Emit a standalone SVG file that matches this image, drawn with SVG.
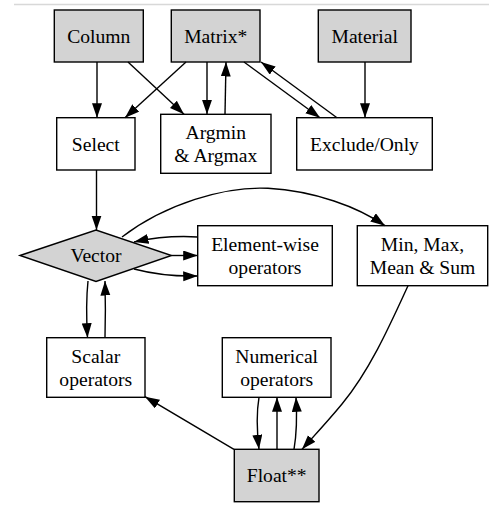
<svg xmlns="http://www.w3.org/2000/svg" width="489" height="506" viewBox="0 0 489 506">
<style>
.n{stroke:#000;stroke-width:1.4;fill:#fff}
.g{fill:#d3d3d3}
text{font-family:'Liberation Serif','Times New Roman',Times,'DejaVu Serif',serif;font-size:19.6px;text-anchor:middle;fill:#000}
.e{fill:none;stroke:#000;stroke-width:1.4;marker-end:url(#ah)}
</style>
<defs>
<marker id="ah" markerWidth="15" markerHeight="11" refX="14.5" refY="5" orient="auto" markerUnits="userSpaceOnUse">
<path d="M0,0 L14.5,5 L0,10 z" fill="#000"/>
</marker>
</defs>
<rect width="489" height="506" fill="#fff"/>
<line x1="14" y1="4.5" x2="489" y2="4.5" stroke="#d8d8d8" stroke-width="1.5"/>
<g id="column"><rect class="n g" x="54.3" y="10" width="89" height="52"/><text x="98.8" y="42.7">Column</text></g>
<g id="matrix"><rect class="n g" x="171.3" y="10" width="88.7" height="52"/><text x="215.7" y="42.7">Matrix*</text></g>
<g id="material"><rect class="n g" x="318.3" y="10" width="92.7" height="52"/><text x="364.7" y="42.7">Material</text></g>
<g id="select"><rect class="n" x="56.7" y="117.7" width="78.3" height="52.3"/><text x="95.8" y="150.5">Select</text></g>
<g id="argmin"><rect class="n" x="160.7" y="114.3" width="110.3" height="59"/><text x="215.8" y="139.3">Argmin</text><text x="215.8" y="162.3">&amp; Argmax</text></g>
<g id="exclude"><rect class="n" x="296.7" y="117.7" width="135.6" height="52.3"/><text x="364.5" y="150.5">Exclude/Only</text></g>
<g id="vector"><polygon class="n g" points="20,255.5 96,230 171.5,255.5 96,281.5"/><text x="96" y="262.2">Vector</text></g>
<g id="elementwise"><rect class="n" x="197.7" y="225.7" width="134.6" height="60"/><text x="265" y="250.9">Element-wise</text><text x="265" y="273.9">operators</text></g>
<g id="minmax"><rect class="n" x="357.3" y="225.7" width="130.4" height="60"/><text x="422.5" y="250.9">Min, Max,</text><text x="422.5" y="273.9">Mean &amp; Sum</text></g>
<g id="scalar"><rect class="n" x="46.7" y="337.7" width="98.3" height="59.6"/><text x="95.8" y="362.7">Scalar</text><text x="95.8" y="385.7">operators</text></g>
<g id="numerical"><rect class="n" x="222.3" y="337.7" width="108.7" height="59.6"/><text x="276.7" y="362.7">Numerical</text><text x="276.7" y="385.7">operators</text></g>
<g id="float"><rect class="n g" x="234.3" y="449.3" width="84.7" height="52.4"/><text x="276.7" y="482.2">Float**</text></g>
<g id="connectors">
<path class="e" d="M97,62 L97,117.7"/>
<path class="e" d="M128,62 L184,114.3"/>
<path class="e" d="M186,62 L125,117.7"/>
<path class="e" d="M207,62 L207,114.3"/>
<path class="e" d="M225,114.3 L226,62"/>
<path class="e" d="M244,62 L320,117.7"/>
<path class="e" d="M337,117.7 L261,62"/>
<path class="e" d="M365,62 L365,117.7"/>
<path class="e" d="M96.5,170 L96.5,230"/>
<path class="e" d="M122,237 C165,204 225,186 268,188.3 C315,191 358,207 385,225.7"/>
<path class="e" d="M197.7,237 C175,235.5 155,237.5 134,242"/>
<path class="e" d="M171.5,255.5 L197.7,255.5"/>
<path class="e" d="M134,269 C155,274.5 175,276.5 197.7,276"/>
<path class="e" d="M88,281 C86,300 86.5,320 87.5,337.7"/>
<path class="e" d="M105,337.7 C105.5,320 105.5,300 105,281"/>
<path class="e" d="M408,285.7 C390,325 370,370 342,404 C328,421 314,436 302,449.3"/>
<path class="e" d="M234,449.3 L145,396.7"/>
<path class="e" d="M259,397.3 C256,415 257,432 259,449.3"/>
<path class="e" d="M277,449.3 L277,397.3"/>
<path class="e" d="M294,449.3 C297,432 297,415 296,397.3"/>
</g>
</svg>
